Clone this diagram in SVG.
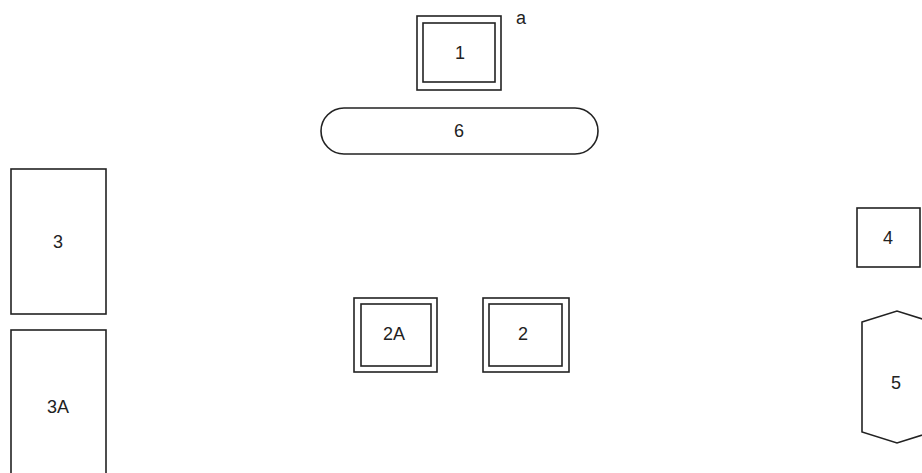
<svg xmlns="http://www.w3.org/2000/svg" width="922" height="473" viewBox="0 0 922 473">
<style>
.s{fill:#fff;stroke:#222;stroke-width:1.6}
.t{font-family:"Liberation Sans",Arial,sans-serif;font-size:18px;fill:#222;text-anchor:middle;dominant-baseline:central}
</style>
<rect width="922" height="473" fill="#fff"/>
<g id="connectors"></g>
<g id="n1"><rect class="s" x="417" y="16" width="84" height="74"/><rect class="s" x="423" y="23" width="72" height="59"/><text class="t" x="460" y="53">1</text></g>
<g id="a"><text class="t" x="521" y="18">a</text></g>
<g id="n6"><rect class="s" x="321" y="108" width="277" height="46" rx="23" ry="23"/><text class="t" x="459" y="131">6</text></g>
<g id="n3"><rect class="s" x="11" y="169" width="95" height="145"/><text class="t" x="58" y="242">3</text></g>
<g id="n3A"><rect class="s" x="11" y="330" width="95" height="160"/><text class="t" x="58" y="407">3A</text></g>
<g id="n2A"><rect class="s" x="354" y="298" width="83" height="74"/><rect class="s" x="361" y="304" width="70" height="62"/><text class="t" x="394" y="334">2A</text></g>
<g id="n2"><rect class="s" x="483" y="298" width="86" height="74"/><rect class="s" x="489" y="304" width="73" height="62"/><text class="t" x="523" y="334">2</text></g>
<g id="n4"><rect class="s" x="857" y="208" width="63" height="59"/><text class="t" x="888" y="238">4</text></g>
<g id="n5"><polygon class="s" points="862,322 897,311 932,322 932,432 897,443 862,432"/><text class="t" x="896" y="383">5</text></g>
</svg>
